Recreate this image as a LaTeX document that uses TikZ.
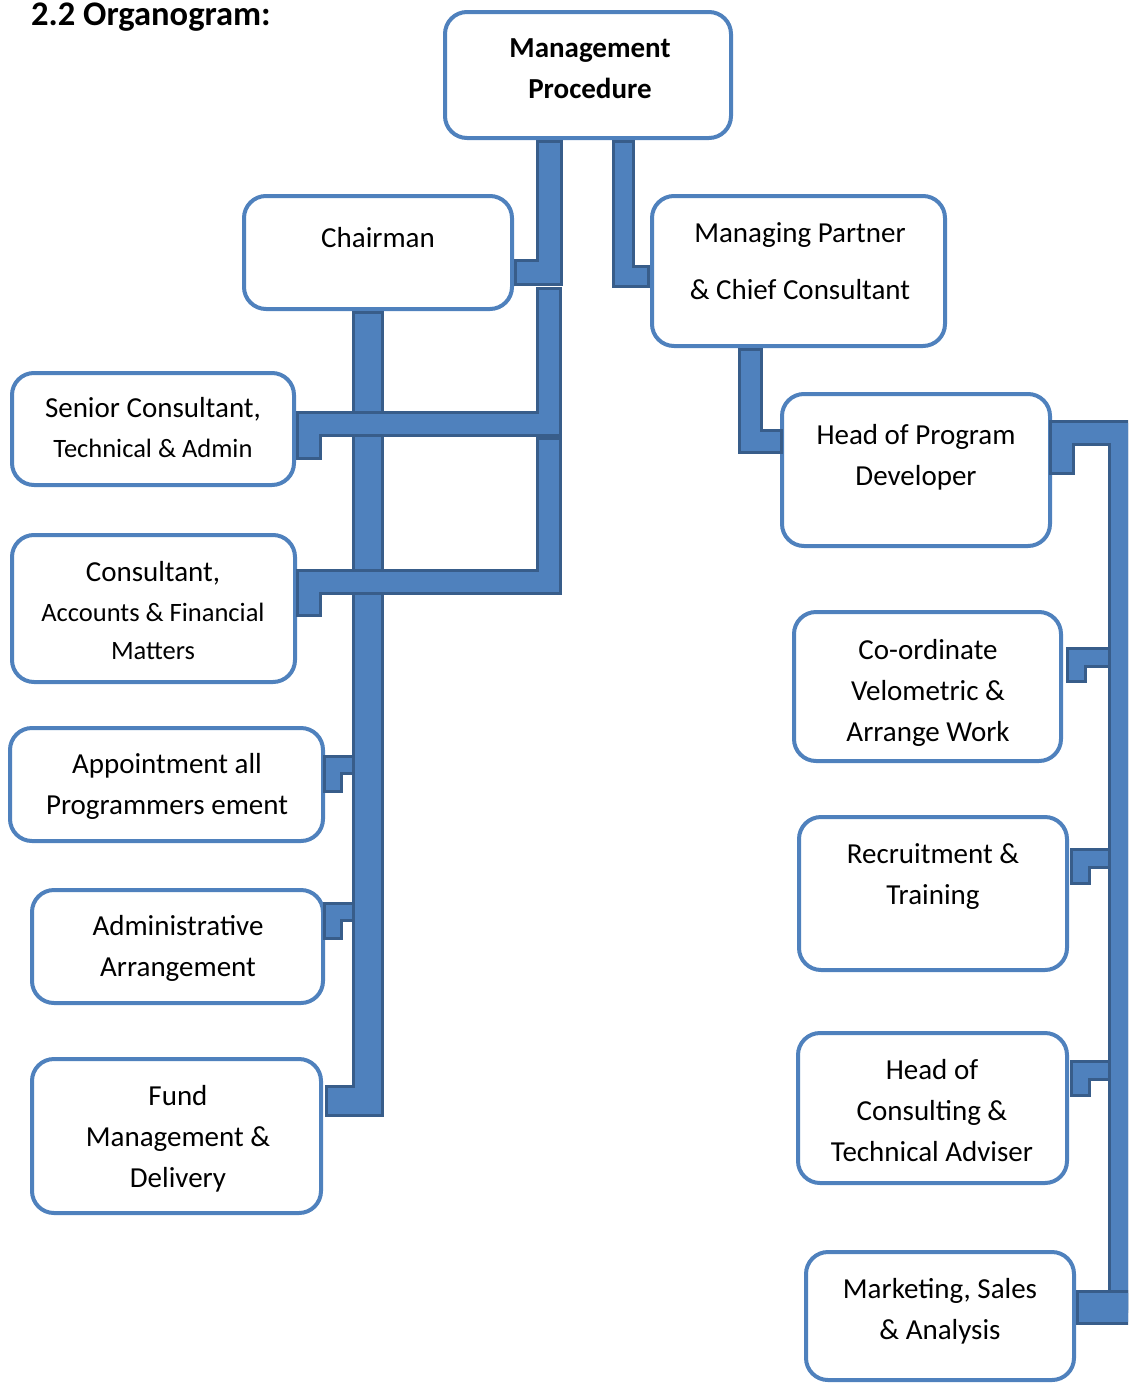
\documentclass[tikz,border=0pt]{standalone}
\usepackage{fontspec}
\setmainfont{Carlito}
\definecolor{bfill}{RGB}{79,129,189}
\definecolor{bdark}{RGB}{56,93,138}
\definecolor{bline}{RGB}{79,129,189}
\newcommand\conn[2]{%
  \draw[line width=#1pt+6pt, draw=bdark, line cap=rect, line join=miter] #2;
  \draw[line width=#1pt, draw=bfill, line cap=rect, line join=miter] #2;}
\tikzset{
  box/.style={draw=bline, line width=4pt, rounded corners=22pt, fill=white, inner sep=0pt},
  lbl/.style={anchor=north, align=center, inner sep=0pt, font=\fontsize{29}{41}\selectfont},
  smalltxt/.style={font=\fontsize{26.5}{39}\selectfont}
}
\begin{document}
\begin{tikzpicture}[x=1pt,y=-1pt]
\useasboundingbox (0,0) rectangle (1128,1384);
\clip (0,0) rectangle (1128,1384);

% title
\node[anchor=base west, inner sep=0pt, font=\fontsize{34.5}{41}\selectfont\bfseries] (title) at (31,25) {2.2 Organogram:};

% boxes
\node[box, minimum width=286pt, minimum height=126pt] (mp) at (588,75) {};
\node[box, minimum width=268pt, minimum height=113pt] (chair) at (378,252.5) {};
\node[box, minimum width=293pt, minimum height=150pt] (mpart) at (798.5,271) {};
\node[box, minimum width=282pt, minimum height=112pt] (senior) at (153,429) {};
\node[box, minimum width=283pt, minimum height=147pt] (cons) at (153.5,608.5) {};
\node[box, minimum width=313pt, minimum height=113pt] (appt) at (166.5,784.5) {};
\node[box, minimum width=291pt, minimum height=113pt] (admin) at (177.5,946.5) {};
\node[box, minimum width=289pt, minimum height=154pt] (fund) at (176.5,1136) {};
\node[box, minimum width=268pt, minimum height=152pt] (hprog) at (916,470) {};
\node[box, minimum width=267pt, minimum height=149pt] (coord) at (927.5,686.5) {};
\node[box, minimum width=268pt, minimum height=153pt] (recr) at (933,893.5) {};
\node[box, minimum width=269pt, minimum height=150pt] (hcons) at (932.5,1108) {};
\node[box, minimum width=268pt, minimum height=128pt] (mkt) at (940,1316) {};

% labels
\node[lbl, font=\fontsize{29}{41}\selectfont\bfseries] (tmp) at (590,29) {\strut Management\\Procedure};
\node[lbl] (tchair) at (378,219) {\strut Chairman};
\node[lbl] (tmpart) at (800,214) {\strut Managing Partner\\[16pt]\& Chief Consultant};
\node[lbl] (tsenior) at (153,389) {\strut Senior Consultant,\\[-1pt]{\fontsize{26.5}{39}\selectfont Technical \& Admin}};
\node[lbl] (tcons) at (153,553) {\strut Consultant,\\[-1pt]{\fontsize{26.5}{39}\selectfont Accounts \& Financial}\\[-3pt]{\fontsize{26.5}{39}\selectfont Matters}};
\node[lbl] (tappt) at (167,745) {\strut Appointment all\\Programmers ement};
\node[lbl] (tadmin) at (178,907) {\strut Administrative\\Arrangement};
\node[lbl] (tfund) at (178,1077) {\strut Fund\\Management \&\\Delivery};
\node[lbl] (thprog) at (916,416) {\strut Head of Program\\Developer};
\node[lbl] (tcoord) at (928,631) {\strut Co-ordinate\\Velometric \&\\Arrange Work};
\node[lbl] (trecr) at (933,835) {\strut Recruitment \&\\Training};
\node[lbl] (thcons) at (932,1051) {\strut Head of\\Consulting \&\\Technical Adviser};
\node[lbl] (tmkt) at (940,1270) {\strut Marketing, Sales\\\& Analysis};

% small hooks on the left trunk
\conn{14}{(332.5,783) -- (332.5,765) -- (350,765)}
\conn{14}{(332.5,930) -- (332.5,912) -- (350,912)}
% chairman trunk to fund management
\conn{26}{(368,327) -- (368,1101) -- (341,1101)}
% management procedure to chairman
\conn{21}{(549.5,153.5) -- (549.5,272) -- (527.5,272)}
% to senior consultant
\conn{20}{(549,300) -- (549,424) -- (308.5,424) -- (308.5,447)}
% to consultant
\conn{20}{(549,450) -- (549,581.5) -- (308.5,581.5) -- (308.5,604)}
% management procedure to managing partner
\conn{17}{(623.5,151.5) -- (623.5,276) -- (638.5,276)}
% managing partner to head of program
\conn{19}{(750.5,360.5) -- (750.5,441.5) -- (770.5,441.5)}
% hooks on the right trunk
\conn{15}{(1076.5,672.5) -- (1076.5,657.5) -- (1100,657.5)}
\conn{15}{(1080.5,874) -- (1080.5,858) -- (1100,858)}
\conn{15}{(1080.5,1086) -- (1080.5,1070) -- (1100,1070)}
% right trunk
\conn{20}{(1062,462) -- (1062,433) -- (1121,433) -- (1121,1300)}
\conn{29}{(1140,1307.5) -- (1093.5,1307.5)}
\end{tikzpicture}
\end{document}
